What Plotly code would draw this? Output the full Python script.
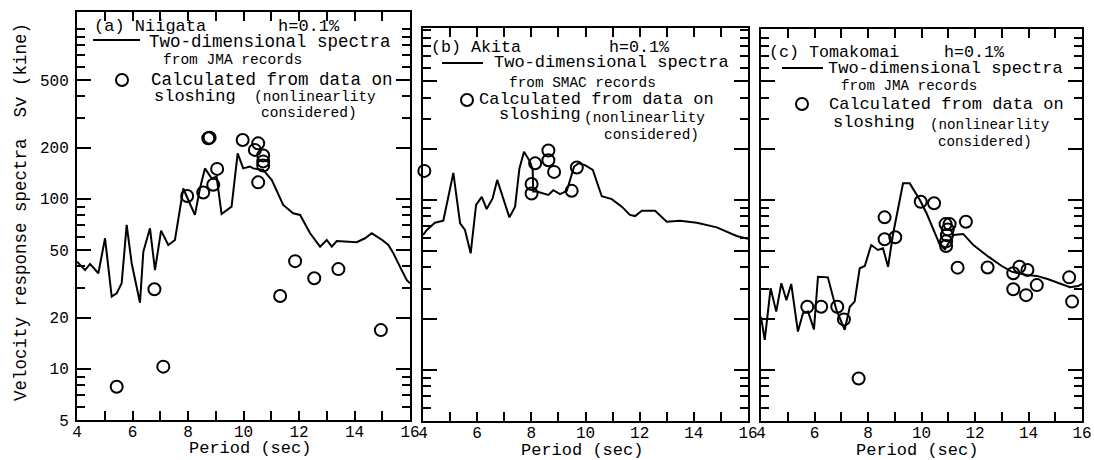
import math
import plotly.graph_objects as go

# ---------------- data ----------------
# (a) Niigata
a_line_x = [4.0, 4.11, 4.29, 4.47, 4.77, 5.01, 5.25, 5.43, 5.61, 5.79, 5.97, 6.27, 6.39, 6.63, 6.81, 7.03,
            7.29, 7.53, 7.83, 8.01, 8.25, 8.43, 8.61, 8.85, 9.03, 9.21, 9.57, 9.79, 9.99, 10.23, 10.35,
            10.71, 11.02, 11.43, 11.79, 12.04, 12.40, 12.76, 13.0, 13.18, 13.36, 14.08, 14.38, 14.62,
            15.0, 15.22, 15.40, 15.70, 15.88, 16.0]
a_line_y = [42.7, 40.8, 38.1, 41.4, 36.5, 58.6, 26.6, 27.8, 31.9, 70.2, 41.8, 24.5, 48.9, 67.1, 38.1, 65,
            53.5, 57.3, 115, 98.4, 80.4, 115, 151, 132, 135, 81.4, 90, 185, 151, 155, 151,
            148, 129, 92, 82.2, 80.4, 62.7, 52.3, 57.3, 52.3, 56.5, 55.6, 58.6, 62.7,
            57.3, 53.5, 47.8, 38.1, 33.3, 31.8]
a_pts_x = [5.43, 6.79, 7.11, 7.97, 8.55, 8.73, 8.78, 8.91, 9.05, 9.97, 10.41, 10.53, 10.71, 10.71, 10.71,
           10.53, 11.32, 11.86, 12.55, 13.42, 14.95]
a_pts_y = [7.85, 29.4, 10.3, 104, 109, 227, 229, 121, 150, 222, 194, 212, 180, 166, 157,
           125, 26.8, 43, 34.1, 38.6, 16.9]

# (b) Akita
b_line_x = [4.0, 4.14, 4.44, 4.75, 5.12, 5.37, 5.55, 5.76, 5.96, 6.17, 6.35, 6.57, 6.74, 7.19, 7.40, 7.56,
            7.73, 7.95, 8.05, 8.07, 8.2, 8.63, 8.81, 9.06, 9.31, 9.58, 9.74, 9.98, 10.27, 10.60, 10.97,
            11.34, 11.64, 11.83, 12.08, 12.57, 13.0, 13.49, 14.11, 14.85, 15.58, 16.0]
b_line_y = [62, 66.5, 73.3, 75.4, 144, 72.8, 66.5, 48.5, 93.3, 104, 88.3, 102, 131, 78.9, 91.2, 153,
            192, 168, 150, 112, 112, 107, 114, 108, 113, 157, 164, 160, 150, 105, 101,
            91.2, 81.5, 80.3, 86.3, 86.3, 74.3, 75.4, 73.3, 68.9, 61.3, 59]
b_pts_x = [4.05, 8.14, 8.63, 8.63, 8.84, 8.01, 8.01, 9.49, 9.68]
b_pts_y = [148, 164, 195, 171, 146, 124, 109, 113, 155]

# (c) Tomakomai
c_line_x = [4.0, 4.14, 4.36, 4.57, 4.76, 4.95, 5.13, 5.38, 5.57, 5.76, 5.98, 6.13, 6.50, 6.82, 7.13, 7.32,
            7.50, 7.69, 7.88, 8.12, 8.37, 8.56, 8.75, 8.93, 9.31, 9.56, 9.94, 10.19, 10.69, 10.88, 11.19,
            11.56, 11.94, 12.50, 13.0, 13.37, 13.93, 14.31, 14.74, 15.18, 15.55, 15.86, 16.0]
c_line_y = [20.5, 15, 30.2, 22, 32.3, 25.7, 32, 16.8, 21.5, 22, 17.3, 35.3, 35, 22.5, 17.2, 23.5,
            25.2, 39.6, 40.8, 54.2, 50.7, 51.9, 40.4, 62.1, 125, 125, 99.8, 83.4, 54.2, 51.2, 62.1,
            63, 54.2, 46.3, 40.8, 37.8, 36.1, 35.7, 34.1, 32, 30.6, 31.1, 32]
c_pts_x = [5.73, 6.25, 6.85, 7.10, 7.65, 8.62, 8.62, 9.02, 9.97, 10.47, 10.90, 11.05, 10.98, 10.95, 10.92,
           10.92, 11.66, 11.35, 12.47, 13.43, 13.66, 13.96, 14.31, 13.43, 13.91, 15.52, 15.63]
c_pts_y = [23.5, 23.5, 23.5, 19.8, 8.9, 78.9, 58.6, 60.2, 97.5, 95.5, 72, 72, 67, 62, 57,
           53.5, 74.3, 39.9, 40, 37, 40.4, 38.7, 31.5, 29.8, 27.5, 35, 25.2]

x_ticks = list(range(4, 17))
x_ticktext = [str(v) if v % 2 == 0 else "" for v in x_ticks]
y_major = [5, 10, 20, 50, 100, 200, 500]
y_major_text = ["5", "10", "20", "50", "100", "200", "500"]
y_minor = [6, 7, 8, 9, 30, 40, 60, 70, 80, 90, 300, 400, 600, 700, 800, 900, 1000]

# ---------------- layout helpers ----------------
W, H = 1094, 460
FONT = "Liberation Mono"

def px(x):
    return x / W

def py(y):
    return 1 - y / H

panels = [
    dict(x0=77, x1=410, yt=12, yb=420, ymax=3.099, lx=a_line_x, ly=a_line_y, cx=a_pts_x, cy=a_pts_y, labels=True),
    dict(x0=423, x1=748, yt=28, yb=421, ymax=3.011, lx=b_line_x, ly=b_line_y, cx=b_pts_x, cy=b_pts_y, labels=False),
    dict(x0=761, x1=1082, yt=29, yb=421, ymax=3.005, lx=c_line_x, ly=c_line_y, cx=c_pts_x, cy=c_pts_y, labels=False),
]

fig = go.Figure()
layout = dict(
    width=W, height=H,
    margin=dict(l=0, r=0, t=0, b=0, autoexpand=False),
    paper_bgcolor="white", plot_bgcolor="white",
    showlegend=False,
    font=dict(family=FONT, color="black"),
)

for i, p in enumerate(panels, start=1):
    xa = "x" if i == 1 else f"x{i}"
    ya = "y" if i == 1 else f"y{i}"
    fig.add_trace(go.Scatter(x=p["lx"], y=p["ly"], mode="lines",
                             line=dict(color="black", width=2), xaxis=xa, yaxis=ya, cliponaxis=True))
    fig.add_trace(go.Scatter(x=p["cx"], y=p["cy"], mode="markers",
                             marker=dict(symbol="circle-open", size=12, color="black", line=dict(width=2)),
                             xaxis=xa, yaxis=ya, cliponaxis=False))
    xkey = "xaxis" if i == 1 else f"xaxis{i}"
    ykey = "yaxis" if i == 1 else f"yaxis{i}"
    layout[xkey] = dict(
        domain=[px(p["x0"]), px(p["x1"])], anchor=ya, range=[4, 16], automargin=False,
        tickmode="array", tickvals=x_ticks, ticktext=x_ticktext,
        ticks="inside", ticklen=9, tickwidth=2, tickcolor="black",
        showline=True, linewidth=2, linecolor="black", mirror="allticks",
        showgrid=False, zeroline=False, ticklabelstandoff=-4,
        tickfont=dict(family=FONT, size=16, color="black"),
    )
    layout[ykey] = dict(
        domain=[py(p["yb"]), py(p["yt"])], anchor=xa, type="log", automargin=False,
        range=[math.log10(5), p["ymax"]],
        tickmode="array", tickvals=y_major, ticktext=y_major_text,
        showticklabels=p["labels"],
        ticks="inside", ticklen=14, tickwidth=2, tickcolor="black",
        minor=dict(tickmode="array", tickvals=y_minor, ticks="inside", ticklen=8,
                   tickwidth=2, tickcolor="black", showgrid=False),
        showline=True, linewidth=2, linecolor="black", mirror="allticks",
        showgrid=False, zeroline=False, ticklabelstandoff=3,
        tickfont=dict(family=FONT, size=16, color="black"),
    )

fig.update_layout(**layout)

annotations = []
shapes = []

def text(t, x, y, size, anchor="left", angle=0):
    annotations.append(dict(text=t, x=px(x), y=py(y), xref="paper", yref="paper",
                            xanchor=anchor, yanchor="middle", showarrow=False, textangle=angle,
                            borderpad=0,
                            font=dict(family=FONT, size=size, color="black")))

def legline(x0, x1, y):
    shapes.append(dict(type="line", xref="paper", yref="paper", x0=px(x0), x1=px(x1), y0=py(y), y1=py(y),
                       line=dict(color="black", width=2)))

def legcircle(x, y):
    shapes.append(dict(type="circle", xref="paper", yref="paper", xsizemode="pixel", ysizemode="pixel",
                       xanchor=px(x), yanchor=py(y), x0=-6, x1=6, y0=-6, y1=6,
                       line=dict(color="black", width=2)))

# panel a legend
text("(a) Niigata", 93, 27, 17)
text("h=0.1%", 277, 27, 17)
legline(93, 140, 40)
text("Two-dimensional spectra", 148, 42, 17.5)
text("from JMA records", 162, 60, 14.5)
legcircle(122, 80)
text("Calculated from data on", 150, 80, 17.5)
text("sloshing", 153, 96, 17)
text("(nonlinearlity", 253, 97, 14.5)
text("considered)", 260, 113, 14.5)

# panel b legend
text("(b) Akita", 430, 48, 16.7)
text("h=0.1%", 608, 48, 16.7)
legline(442, 483, 63)
text("Two-dimensional spectra", 493, 63, 17)
text("from SMAC records", 508, 83, 14.4)
legcircle(467, 100)
text("Calculated from data on", 478, 100, 17)
text("sloshing", 498, 114, 17)
text("(nonlinearlity", 583, 118, 14.4)
text("considered)", 603, 135, 14.4)

# panel c legend
text("(c) Tomakomai", 768, 52, 16.7)
text("h=0.1%", 943, 52, 16.7)
legline(782, 823, 68)
text("Two-dimensional spectra", 827, 68, 17)
text("from JMA records", 840, 86, 14.2)
legcircle(802, 104)
text("Calculated from data on", 828, 104, 17)
text("sloshing", 832, 122, 17)
text("(nonlinearlity", 929, 125, 14.2)
text("considered)", 937, 142, 14.2)

# axis titles
text("Velocity response spectra  Sv (kine)", 21, 212, 17.5, anchor="center", angle=-90)
text("Period (sec)", 250, 448, 17, anchor="center")
text("Period (sec)", 582, 450, 17, anchor="center")
text("Period (sec)", 917, 450, 17, anchor="center")

fig.update_layout(annotations=annotations, shapes=shapes)
fig.write_html("out.html", config={"displayModeBar": False},
               post_script="document.body.style.margin='0';document.body.style.padding='0';")
